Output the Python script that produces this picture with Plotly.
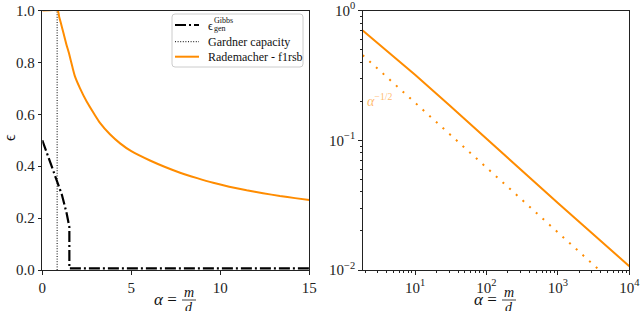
import plotly.graph_objects as go
import math

# ---------------- data ----------------
# Left panel: linear axes
alpha_rad = [0, 0.865, 0.95, 1.05, 1.2, 1.35, 1.5, 1.7, 1.84, 2.12, 2.5, 2.9, 3.24, 3.8, 4.37, 5.0, 6.05,
             6.9, 7.74, 8.7, 9.6, 10.5, 11.48, 12.4, 13.35, 14.2, 15]
eps_rad = [1.0, 1.0, 0.975, 0.95, 0.91, 0.87, 0.835, 0.78, 0.745, 0.70, 0.648, 0.603, 0.567, 0.523, 0.488,
           0.458, 0.422, 0.397, 0.375, 0.354, 0.336, 0.321, 0.307, 0.296, 0.285, 0.277, 0.27]

alpha_gibbs = [0, 0.2, 0.5, 0.81, 1.1, 1.37, 1.46, 1.52, 1.52, 15]
eps_gibbs = [0.5, 0.462, 0.41, 0.353, 0.29, 0.218, 0.19, 0.165, 0.006, 0.006]

alpha_gardner = [0.833, 0.833]
eps_gardner = [0.0, 1.0]

# Right panel: log-log axes
alpha_log = [1.85, 3, 10, 30, 100, 1000, 10000]
eps_log = [0.70, 0.56, 0.32, 0.187, 0.103, 0.0328, 0.0107]

alpha_ref = [1.85, 10000]
eps_ref = [0.453, 0.00616]

left_xticks = [0, 5, 10, 15]
left_yticks = [0.0, 0.2, 0.4, 0.6, 0.8, 1.0]
right_xticks = [10, 100, 1000, 10000]
right_xticklabels = ["10<sup>1</sup>", "10<sup>2</sup>", "10<sup>3</sup>", "10<sup>4</sup>"]
right_yticks = [0.01, 0.1, 1]
right_yticklabels = ["10<sup>−2</sup>", "10<sup>−1</sup>", "10<sup>0</sup>"]

ORANGE = "#FF8C00"
W, H = 640, 311
FONT = "Liberation Serif"

def px(x):
    return x / W

def py(y):
    return 1 - y / H

fig = go.Figure()

fig.add_trace(go.Scatter(x=alpha_gibbs, y=eps_gibbs, mode="lines",
                         line=dict(color="black", width=2.2, dash="11px,3px,2px,3px"),
                         xaxis="x", yaxis="y", showlegend=False))
fig.add_trace(go.Scatter(x=alpha_gardner, y=eps_gardner, mode="lines",
                         line=dict(color="black", width=1, dash="1px,1.6px"),
                         xaxis="x", yaxis="y", showlegend=False))
fig.add_trace(go.Scatter(x=alpha_rad, y=eps_rad, mode="lines",
                         line=dict(color=ORANGE, width=2, shape="spline", smoothing=0.5),
                         xaxis="x", yaxis="y", showlegend=False))

fig.add_trace(go.Scatter(x=alpha_log, y=eps_log, mode="lines",
                         line=dict(color=ORANGE, width=2),
                         xaxis="x2", yaxis="y2", showlegend=False))
fig.add_trace(go.Scatter(x=alpha_ref, y=eps_ref, mode="lines",
                         line=dict(color=ORANGE, width=2, dash="2px,7px"),
                         xaxis="x2", yaxis="y2", showlegend=False))

ydom = [py(270), py(10.5)]
axis_common = dict(showgrid=False, zeroline=False, showline=True, linecolor="#222",
                   linewidth=1, mirror=True, ticks="outside", ticklen=3.5, tickwidth=0.8,
                   tickcolor="#222", automargin=False, ticklabeloverflow="allow",
                   tickfont=dict(family=FONT, size=15, color="#222"))

minor_x = []
for d in [1, 10, 100, 1000]:
    for k in range(2, 10):
        minor_x.append(k * d)
minor_y = []
for d in [0.01, 0.1]:
    for k in range(2, 10):
        minor_y.append(round(k * d, 4))

fig.update_layout(
    width=W, height=H,
    margin=dict(l=0, r=0, t=0, b=0),
    paper_bgcolor="white", plot_bgcolor="white",
    xaxis=dict(domain=[px(42.3), px(309.3)], range=[0, 15], tickvals=left_xticks,
               anchor="y", **axis_common),
    yaxis=dict(domain=ydom, range=[0, 1], tickvals=left_yticks,
               tickformat=".1f", anchor="x", **axis_common),
    xaxis2=dict(domain=[px(362.7), px(629.3)], type="log",
                range=[math.log10(1.85), 4], tickvals=right_xticks, ticktext=right_xticklabels,
                anchor="y2",
                minor=dict(tickvals=minor_x, ticks="outside", ticklen=2, tickwidth=0.6, tickcolor="#222"),
                **axis_common),
    yaxis2=dict(domain=ydom, type="log", range=[-2, 0], tickvals=right_yticks,
                ticktext=right_yticklabels, anchor="x2",
                minor=dict(tickvals=minor_y, ticks="outside", ticklen=2, tickwidth=0.6, tickcolor="#222"),
                **axis_common),
)

ann = []
shapes = []

# axis titles: alpha = m/d (stacked fraction)
for off in [0, 320]:
    ann.append(dict(text="<i>α</i> =", x=px(179 + off), y=py(299), xref="paper", yref="paper",
                    xanchor="right", yanchor="middle", showarrow=False,
                    font=dict(family=FONT, size=17, color="#111")))
    ann.append(dict(text="<i>m</i>", x=px(189 + off), y=py(292), xref="paper", yref="paper",
                    xanchor="center", yanchor="middle", showarrow=False,
                    font=dict(family=FONT, size=14, color="#111")))
    ann.append(dict(text="<i>d</i>", x=px(189 + off), y=py(307), xref="paper", yref="paper",
                    xanchor="center", yanchor="middle", showarrow=False,
                    font=dict(family=FONT, size=14, color="#111")))
    shapes.append(dict(type="line", xref="paper", yref="paper",
                       x0=px(182 + off), x1=px(196 + off), y0=py(300), y1=py(300),
                       line=dict(color="#111", width=0.8)))

# y label
ann.append(dict(text="ϵ", x=px(9), y=py(138), xref="paper", yref="paper", textangle=-90,
                xanchor="center", yanchor="middle", showarrow=False,
                font=dict(family=FONT, size=16, color="#111")))

# alpha^-1/2 label
ann.append(dict(text="<i>α</i><sup>−1/2</sup>", x=px(365), y=py(100), xref="paper", yref="paper",
                xanchor="left", yanchor="middle", showarrow=False,
                font=dict(family=FONT, size=14, color="rgba(255,140,0,0.6)")))

# manual legend
x0, x1, y0, y1, r = 172, 303, 14, 67, 3
path = (f"M {px(x0 + r)},{py(y0)} L {px(x1 - r)},{py(y0)} "
        f"Q {px(x1)},{py(y0)} {px(x1)},{py(y0 + r)} L {px(x1)},{py(y1 - r)} "
        f"Q {px(x1)},{py(y1)} {px(x1 - r)},{py(y1)} L {px(x0 + r)},{py(y1)} "
        f"Q {px(x0)},{py(y1)} {px(x0)},{py(y1 - r)} L {px(x0)},{py(y0 + r)} "
        f"Q {px(x0)},{py(y0)} {px(x0 + r)},{py(y0)} Z")
shapes.append(dict(type="path", path=path, xref="paper", yref="paper",
                   fillcolor="rgba(255,255,255,0.8)", line=dict(color="#cccccc", width=1)))
shapes.append(dict(type="line", xref="paper", yref="paper", x0=px(175), x1=px(199),
                   y0=py(25), y1=py(25), line=dict(color="black", width=2.2, dash="11px,3px,2px,3px")))
shapes.append(dict(type="line", xref="paper", yref="paper", x0=px(175), x1=px(199),
                   y0=py(41.7), y1=py(41.7), line=dict(color="black", width=1, dash="1px,1.6px")))
shapes.append(dict(type="line", xref="paper", yref="paper", x0=px(175), x1=px(199),
                   y0=py(56.7), y1=py(56.7), line=dict(color=ORANGE, width=2)))

ann.append(dict(text="ϵ", x=px(206), y=py(26), xref="paper", yref="paper",
                xanchor="left", yanchor="middle", showarrow=False,
                font=dict(family=FONT, size=12, color="#111")))
ann.append(dict(text="Gibbs", x=px(212), y=py(21), xref="paper", yref="paper",
                xanchor="left", yanchor="middle", showarrow=False,
                font=dict(family=FONT, size=8, color="#111")))
ann.append(dict(text="gen", x=px(212), y=py(29), xref="paper", yref="paper",
                xanchor="left", yanchor="middle", showarrow=False,
                font=dict(family=FONT, size=8, color="#111")))
ann.append(dict(text="Gardner capacity", x=px(206), y=py(41.7), xref="paper", yref="paper",
                xanchor="left", yanchor="middle", showarrow=False,
                font=dict(family=FONT, size=12, color="#111")))
ann.append(dict(text="Rademacher - f1rsb", x=px(206), y=py(56.7), xref="paper", yref="paper",
                xanchor="left", yanchor="middle", showarrow=False,
                font=dict(family=FONT, size=12, color="#111")))

fig.update_layout(annotations=ann, shapes=shapes)
fig.write_html("out.html", config={"displayModeBar": False},
               post_script="document.body.style.margin='0';")
